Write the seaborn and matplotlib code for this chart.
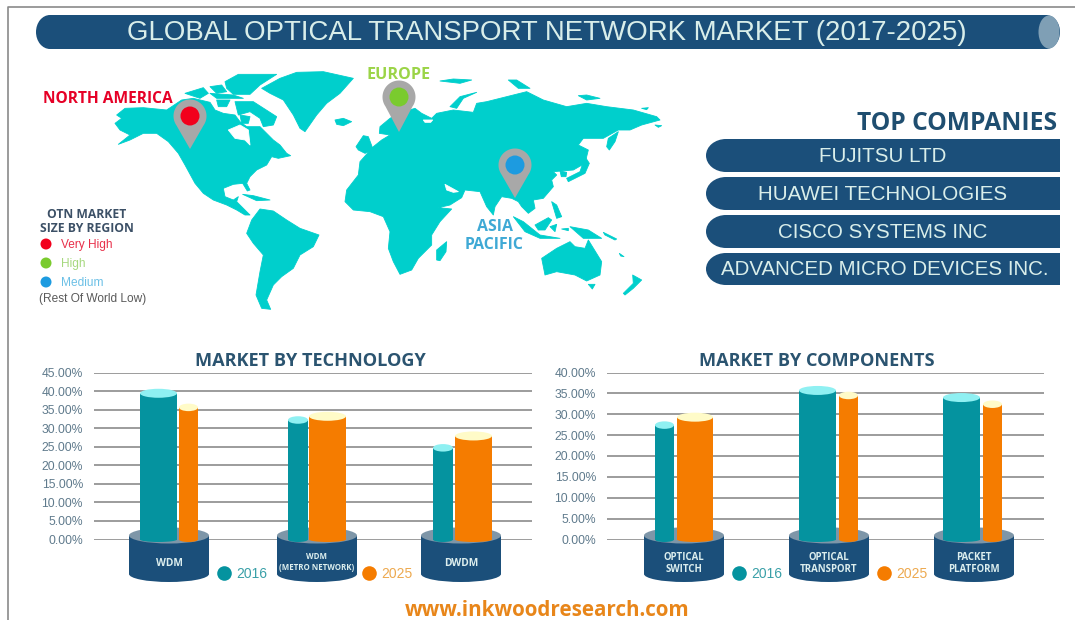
import numpy as np
import pandas as pd
import matplotlib
matplotlib.use("Agg")
import matplotlib.pyplot as plt
import seaborn as sns
from matplotlib.lines import Line2D
from matplotlib.patches import Ellipse, Polygon, Rectangle

# ---------- data ----------
YEARS = ["2016", "2025"]
TECH_CATS = ["WDM", "WDM\n(METRO NETWORK)", "DWDM"]
TECH_2016 = [39.4, 32.2, 24.7]
TECH_2025 = [35.6, 33.2, 27.9]
COMP_CATS = ["OPTICAL\nSWITCH", "OPTICAL\nTRANSPORT", "PACKET\nPLATFORM"]
COMP_2016 = [27.4, 35.7, 34.0]
COMP_2025 = [29.3, 34.5, 32.4]
COMPANIES = ["FUJITSU LTD", "HUAWEI TECHNOLOGIES", "CISCO SYSTEMS INC",
             "ADVANCED MICRO DEVICES INC."]
TITLE = "GLOBAL OPTICAL TRANSPORT NETWORK MARKET (2017-2025)"

# ---------- style ----------
sns.set_theme(style="white")
SANS = "Liberation Sans"
BOLD = "Open Sans"
NAVY = "#1B4F7A"
TEAL = "#05939F"
ORANGE = "#F57C00"
MAPC = "#00CFCC"
W, H = 1075, 620
fig = plt.figure(figsize=(W / 100, H / 100), dpi=100, facecolor="white")
bg = fig.add_axes([0, 0, 1, 1], zorder=0)
bg.set_xlim(0, W); bg.set_ylim(H, 0); bg.axis("off")

# frame
bg.plot([8, 8, W], [H, 7, 7], color="#8A8A8A", lw=1.2)

# banner
bg.add_patch(Rectangle((50, 15), 996, 34, fc=NAVY, ec="none"))
bg.add_patch(Ellipse((50, 32), 28, 34, fc=NAVY, ec="none"))
bg.add_patch(Ellipse((1046, 32), 28, 34, fc=NAVY, ec="none"))
bg.add_patch(Ellipse((1049, 32), 21, 33, fc="#7F9FB5", ec="none"))
bg.text(547, 33.5, TITLE, ha="center", va="center", color="#D9EEEA", family=SANS, fontsize=19.9)

# companies
bg.text(1057, 124, "TOP COMPANIES", ha="right", va="center", color="#1F4E70",
        family=BOLD, weight="bold", fontsize=17.7)
for name, (y0, y1), cx in zip(COMPANIES, [(139, 172), (177, 210), (215, 248), (253, 285)],
                              [883, 883, 883, 885]):
    bg.add_patch(Ellipse((726, (y0 + y1) / 2), 40, y1 - y0, fc=NAVY, ec="none"))
    bg.add_patch(Rectangle((726, y0), 334, y1 - y0, fc=NAVY, ec="none"))
    bg.text(cx, (y0 + y1) / 2 + 0.8, name, ha="center", va="center",
            color="#D9EEEA", family=SANS, fontsize=14.75)

# map outline (crop offset, then points at 3x)
MAP_WEST = [
 [(20,150),(45,130),(100,128),(170,135),(215,105),(250,100),(300,112),(315,135),(340,145),(375,150),
  (390,170),(410,185),(450,185),(470,205),(490,225),(510,240),(530,265),(542,272),(505,280),(485,275),
  (470,300),(440,315),(420,335),(410,355),(420,375),(412,378),(398,355),(370,358),(340,370),(345,395),
  (370,405),(385,395),(380,410),(395,425),(420,450),(405,450),(380,435),(350,420),(310,405),(280,385),
  (255,355),(225,300),(205,265),(175,230),(140,205),(100,205),(60,225),(25,238),(60,210),(30,195),
  (15,175),(35,160)],
 [(225,85),(280,68),(295,85),(270,100)],
 [(300,65),(335,60),(350,80),(320,85)],
 [(345,50),(385,28),(500,28),(450,60),(420,88),(370,88),(350,70)],
 [(375,110),(430,110),(500,155),(490,180),(460,185),(450,160),(420,140),(385,150)],
 [(320,105),(360,105),(350,125),(325,125)],
 [(390,150),(420,155),(415,175),(395,175)],
 [(300,85),(370,90),(400,100),(360,100),(320,100)],
 [(455,70),(510,40),(560,22),(640,20),(730,40),(690,85),(650,115),(620,150),(585,200),(570,190),
  (550,150),(520,105),(480,85)],
 [(675,165),(700,160),(725,170),(700,182),(680,178)],
 [(398,388),(430,392),(480,405),(440,407)],
 [(410,505),(425,465),(450,432),(490,438),(530,465),(570,490),(627,510),(610,545),(570,570),(550,610),
  (515,635),(490,660),(470,705),(482,733),(455,730),(438,690),(450,620),(460,570),(430,535)],
]
MAP_EAST = [
 [(118,175),(120,155),(150,130),(175,115),(225,100),(245,115),(275,130),(290,115),(340,105),(400,112),
  (410,85),(440,80),(500,65),(560,50),(610,75),(680,95),(740,85),(800,95),(880,105),(950,125),(960,135),
  (905,150),(870,165),(835,165),(790,190),(730,190),(715,210),(745,225),(735,265),(700,285),(640,290),
  (650,300),(635,315),(640,335),(610,370),(580,375),(585,400),(565,415),(545,395),(535,380),(515,370),
  (485,365),(465,395),(460,420),(440,395),(420,350),(375,345),(365,368),(330,390),(295,398),(335,402),
  (300,440),(275,480),(275,510),(235,550),(215,585),(180,598),(160,560),(145,520),(150,470),(130,425),
  (90,410),(40,405),(15,380),(20,345),(55,300),(60,260),(100,215),(125,195),(150,180)],
 [(48,215),(70,182),(85,185),(100,225),(75,235),(55,225)],
 [(330,95),(360,65),(410,52),(370,70),(350,100)],
 [(505,15),(530,15),(570,40),(535,40)],
 [(715,62),(740,60),(780,70),(740,75)],
 [(300,18),(340,12),(395,15),(360,25)],
 [(905,100),(925,98),(920,104)],
 [(945,150),(965,152),(955,157)],
 [(800,215),(805,190),(835,170),(825,200),(808,225)],
 [(680,310),(720,290),(735,245),(748,265),(735,295),(685,320)],
 [(660,288),(680,292),(678,305),(664,305)],
 [(520,425),(550,440),(600,480),(660,490),(600,490),(555,470)],
 [(585,450),(625,428),(635,435),(615,465),(595,465)],
 [(635,380),(650,390),(665,425),(650,430)],
 [(630,455),(650,448),(645,470)],
 [(690,455),(745,465),(785,490),(730,490)],
 [(665,462),(685,460),(685,467)],
 [(790,472),(830,492),(825,495),(795,480)],
 [(838,535),(852,545),(842,543)],
 [(605,550),(650,520),(690,500),(705,515),(735,520),(745,495),(785,560),(780,600),(740,618),(705,600),
  (650,590),(615,600)],
 [(745,628),(765,628),(757,642)],
 [(850,655),(880,625),(878,600),(905,615),(880,640),(855,660)],
 [(290,555),(290,525),(320,500),(318,530),(300,557)],
]
MAP_HOLES_WEST = [[(355,195),(390,180),(415,195),(420,240),(405,225),(375,220)]]
MAP_HOLES_EAST = [[(315,328),(355,350),(340,352),(320,345)],
                  [(250,135),(278,135),(272,142),(255,142)]]

def draw_shapes(shapes, ox, oy, col):
    for shape in shapes:
        pts = np.array(shape, float) / 3 + (ox, oy)
        bg.add_patch(Polygon(pts, closed=True, fc=col, ec=col, lw=0.6, joinstyle="round"))

draw_shapes(MAP_WEST, 110, 65, MAPC)
draw_shapes(MAP_EAST, 340, 75, MAPC)
draw_shapes(MAP_HOLES_WEST, 110, 65, "white")
draw_shapes(MAP_HOLES_EAST, 340, 75, "white")

def pin(cx, cy, r, tip, dot, dotr):
    t = np.radians(np.linspace(-35, 215, 60))
    xs = cx + r * np.cos(t); ys = cy - r * np.sin(t)
    poly = np.column_stack([np.r_[xs, cx], np.r_[ys, tip]])
    bg.add_patch(Polygon(poly, closed=True, fc="#A8A8A8", ec="none", zorder=3))
    bg.add_patch(Ellipse((cx, cy), 2 * dotr, 2 * dotr, fc=dot, ec="none", zorder=4))

pin(190, 116, 16.5, 149, "#F2001C", 9.5)
pin(399, 97, 16.5, 132, "#7ACB2E", 9.5)
pin(515, 165, 16.5, 198, "#1D9BE0", 9.5)

for txt, x, y, c, fs in [("NORTH AMERICA", 108, 99, "#E60026", 11.2),
                         ("EUROPE", 399, 75, "#9BD447", 11.6),
                         ("ASIA", 495, 227, "#3FA9D5", 11.4),
                         ("PACIFIC", 494, 245, "#3FA9D5", 11.4)]:
    bg.text(x, y, txt, ha="center", va="center", color=c, family=BOLD, weight="bold",
            fontsize=fs, zorder=5)

# map key
bg.text(87, 215, "OTN MARKET", ha="center", va="center", color="#3C5066",
        family=BOLD, weight="bold", fontsize=8.7)
bg.text(87, 229, "SIZE BY REGION", ha="center", va="center", color="#3C5066",
        family=BOLD, weight="bold", fontsize=8.7)
for y, col, tcol, lab in [(244, "#F2001C", "#E8304A", "Very High"),
                          (263, "#7ACB2E", "#A6D87E", "High"),
                          (282, "#1D9BE0", "#6CC0E6", "Medium")]:
    bg.add_patch(Ellipse((46, y), 11, 11, fc=col, ec="none"))
    bg.text(61, y + 0.8, lab, ha="left", va="center", color=tcol, family=SANS, fontsize=8.6)
bg.text(39, 299, "(Rest Of World Low)", ha="left", va="center", color="#5A5A5A",
        family=SANS, fontsize=8.6)

# footer
bg.text(547, 610, "www.inkwoodresearch.com", ha="center", va="center", color="#E8861A",
        family=BOLD, weight="bold", fontsize=14.9)


def panel(cats, v16, v25, ymax, x0, x1, title, tcx, ped_left, edges, legend_cx):
    y0, ytop = 539.5, 372.5
    pos = [x0 / W, 1 - y0 / H, (x1 - x0) / W, (y0 - ytop) / H]
    base = fig.add_axes(pos, zorder=1, facecolor="none")
    base.set_ylim(0, ymax)
    base.set_xticks([])
    ticks = np.arange(0, ymax + 1, 5)
    base.set_yticks(ticks, [f"{t:.2f}%" for t in ticks], family=SANS, fontsize=8.7, color="#5F7A8C")
    base.tick_params(axis="y", length=0, pad=8)
    base.grid(axis="y", color="#9C9C9C", lw=1.4)
    sns.despine(ax=base, left=True, bottom=True)

    ax = fig.add_axes(pos, zorder=3, facecolor="none", sharey=base)
    df = pd.DataFrame({"cat": cats * 2, "year": [YEARS[0]] * 3 + [YEARS[1]] * 3,
                       "share": list(v16) + list(v25)})
    sns.barplot(data=df, x="cat", y="share", hue="year", hue_order=YEARS, order=cats,
                palette={YEARS[0]: TEAL, YEARS[1]: ORANGE}, errorbar=None, ax=ax,
                legend=False, saturation=1, linewidth=0)
    ax.set_xlim(-0.5, 2.5)
    ax.set_ylim(0, ymax)
    ax.set_xlabel(""); ax.set_ylabel("")
    ax.set_axisbelow(False)
    ax.tick_params(axis="y", left=False, labelleft=False)
    ax.tick_params(axis="x", length=0)
    to_data = lambda px: -0.5 + (px - x0) / (x1 - x0) * 3
    ax.set_xticks([to_data(l + 40) for l in ped_left], cats, family=BOLD, weight="bold",
                  color="#DCEEEE", fontsize=6.9)
    sns.despine(ax=ax, left=True, bottom=True)
    for i, lab in enumerate(ax.get_xticklabels()):
        tick = ax.xaxis.get_major_ticks()[i]
        text = lab.get_text()
        if "\n" not in text:
            tick.set_pad(13); lab.set_fontsize(7.4)
        else:
            tick.set_pad(9); lab.set_linespacing(1.15)
            if "METRO" in text:
                lab.set_fontsize(5.7); lab.set_linespacing(1.25)

    # pedestals, behind the bars
    tr = bg.transData
    for left in ped_left:
        ax.add_patch(Ellipse((left + 40, 574), 80, 16, fc=NAVY, ec="none", transform=tr, clip_on=False, zorder=1))
        ax.add_patch(Rectangle((left, 536), 80, 38, fc=NAVY, ec="none", transform=tr, clip_on=False, zorder=1))
        ax.add_patch(Ellipse((left + 40, 535.5), 80, 16, fc="#7E96A8", ec="none", transform=tr, clip_on=False, zorder=1.1))

    # cylinders: reshape the library's bars and put caps on them
    unit = ymax / (y0 - ytop)
    caps = {0: "#8FF0F2", 1: "#FFFBC8"}
    for s, cont in enumerate(ax.containers):
        for c, bar in enumerate(cont):
            l, r = edges[c][s]
            bar.set_x(to_data(l)); bar.set_width(to_data(r) - to_data(l))
            bar.set_zorder(3)
            col = bar.get_facecolor()
            xc = bar.get_x() + bar.get_width() / 2
            hh = (9 if r - l > 30 else 7.5) * unit
            ax.add_patch(Ellipse((xc, 0), bar.get_width(), 5 * unit, fc=col, ec="none", zorder=3, clip_on=False))
            ax.add_patch(Ellipse((xc, bar.get_height()), bar.get_width(), hh, fc=caps[s], ec="none", zorder=4, clip_on=False))

    handles = [Line2D([], [], marker="o", ls="", ms=10.5, mfc=TEAL, mec="none"),
               Line2D([], [], marker="o", ls="", ms=10.5, mfc=ORANGE, mec="none")]
    leg = ax.legend(handles, YEARS, ncol=2, frameon=False, loc="center",
                    bbox_to_anchor=((legend_cx - x0) / (x1 - x0), (y0 - 574) / (y0 - ytop)),
                    prop={"family": SANS, "size": 10}, labelcolor=["#3AA0A8", "#EDA94F"],
                    columnspacing=6.7, handletextpad=0.3, handlelength=1.2, borderaxespad=0)
    leg.set_zorder(6)
    bg.text(tcx, 361, title, ha="center", va="center", color="#2B5470",
            family=BOLD, weight="bold", fontsize=13.1)


panel(TECH_CATS, TECH_2016, TECH_2025, 45, 94, 532, "MARKET BY TECHNOLOGY", 310,
      [129, 277, 421],
      [[(140, 177), (179, 198)], [(288, 308), (309, 346)], [(433, 453), (455, 492)]], 314)
panel(COMP_CATS, COMP_2016, COMP_2025, 40, 607, 1044, "MARKET BY COMPONENTS", 817,
      [644, 789, 934],
      [[(655, 674), (677, 713)], [(799, 836), (839, 858)], [(943, 980), (983, 1002)]], 829)

fig.savefig("out.png", dpi=100)
